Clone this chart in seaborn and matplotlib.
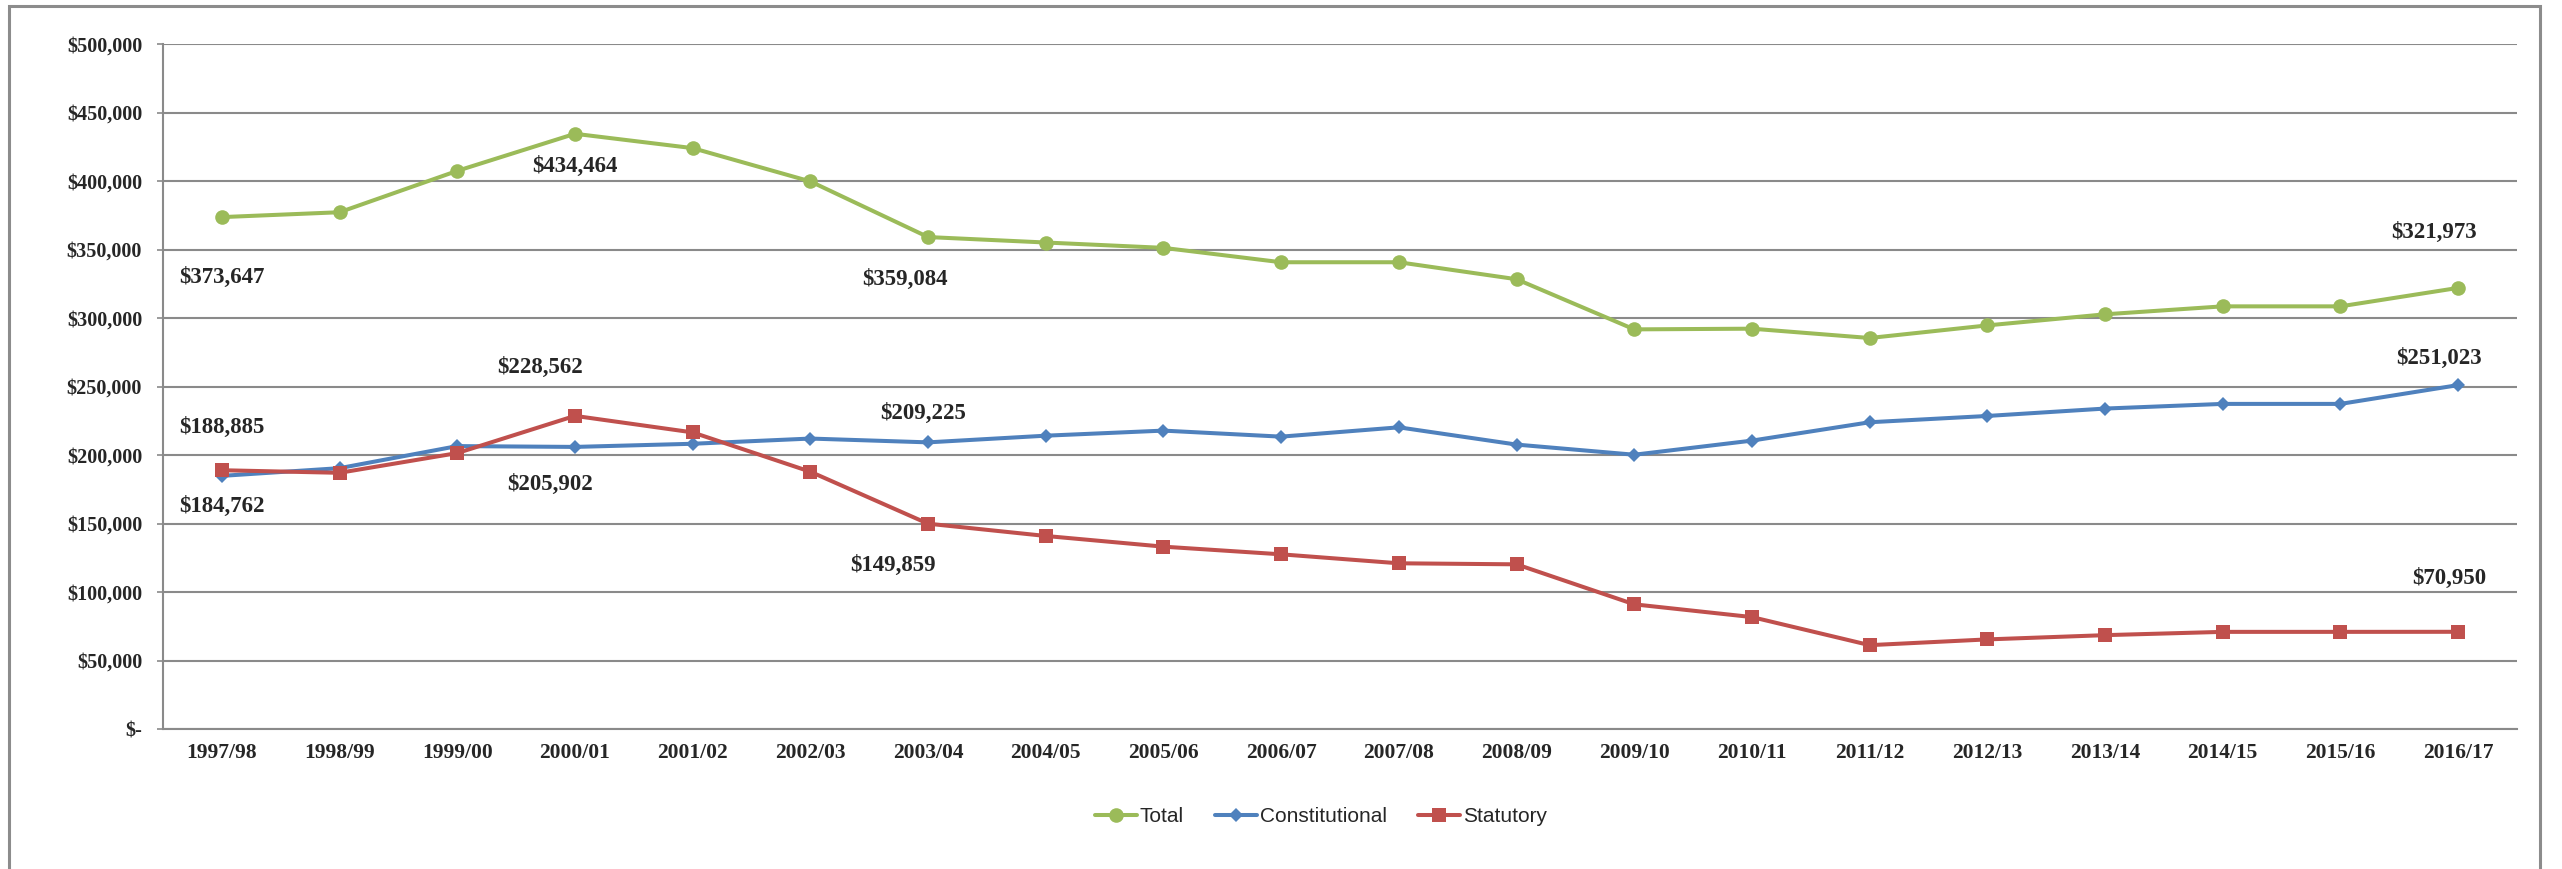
import pandas as pd
import matplotlib
matplotlib.use("Agg")
import matplotlib.pyplot as plt
from matplotlib.ticker import FuncFormatter, MultipleLocator, FixedLocator
from matplotlib.patches import Rectangle
import seaborn as sns

# data
years = ['1997/98', '1998/99', '1999/00', '2000/01', '2001/02', '2002/03', '2003/04',
         '2004/05', '2005/06', '2006/07', '2007/08', '2008/09', '2009/10', '2010/11',
         '2011/12', '2012/13', '2013/14', '2014/15', '2015/16', '2016/17']
total = [373647, 377200, 407400, 434464, 424000, 399700, 359084, 355100, 351200, 340700,
         340700, 328300, 291700, 292200, 285400, 294600, 302700, 308500, 308500, 321973]
constitutional = [184762, 190400, 206500, 205902, 208200, 212000, 209225, 214100, 217800, 213400,
                  220200, 207600, 200200, 210500, 223900, 228500, 233900, 237300, 237300, 251023]
statutory = [188885, 187000, 201400, 228562, 216500, 187800, 149859, 140900, 133100, 127500,
             120950, 120200, 91000, 81700, 61200, 65400, 68500, 70900, 70900, 70950]
series_names = ['Total', 'Constitutional', 'Statutory']

df = pd.DataFrame({'Year': years, 'Total': total,
                   'Constitutional': constitutional, 'Statutory': statutory})

sns.set_style("white")
plt.rcParams['font.family'] = ['Liberation Serif', 'DejaVu Serif']

W, H = 2562, 869
fig = plt.figure(figsize=(W / 100, H / 100), dpi=100)
ax = fig.add_axes([163 / W, 1 - 729 / H, (2517 - 163) / W, (729 - 44) / H])

styles = {
    'Total': dict(color='#9BBB59', marker='o', markersize=10.5),
    'Constitutional': dict(color='#4F81BD', marker='D', markersize=7.5),
    'Statutory': dict(color='#C0504D', marker='s', markersize=10.5),
}
for name in series_names:
    sns.lineplot(data=df, x='Year', y=name, ax=ax, label=name, sort=False,
                 linewidth=2.9, markeredgewidth=0, **styles[name])

# value labels (which point, offset in pixels)
label_spots = [
    ('Total', 0, 0, -60), ('Total', 3, 0, -33), ('Total', 6, -23, -42), ('Total', 19, -24, 55),
    ('Constitutional', 0, 0, -31), ('Constitutional', 3, -25, -38),
    ('Constitutional', 6, -5, 29), ('Constitutional', 19, -19, 27),
    ('Statutory', 0, 0, 43), ('Statutory', 3, -35, 48), ('Statutory', 6, -35, -42),
    ('Statutory', 19, -9, 53),
]
for name, i, dx, dy in label_spots:
    v = df[name].iloc[i]
    ax.annotate(f"${v:,.0f}", xy=(i, v), xytext=(dx, dy), textcoords='offset pixels',
                ha='center', va='center', fontsize=16.5, fontweight='bold')

ax.set_xlim(-0.5, len(years) - 0.5)
ax.set_ylim(0, 500000)
ax.yaxis.set_major_locator(MultipleLocator(50000))
ax.yaxis.set_major_formatter(FuncFormatter(lambda v, p: "$-" if v == 0 else f"${v:,.0f}"))
ax.xaxis.set_minor_locator(FixedLocator([i - 0.5 for i in range(len(years) + 1)]))
ax.grid(axis='y', color='#8a8a8a', linewidth=1.5)
ax.grid(axis='x', visible=False)
ax.set_xlabel('')
ax.set_ylabel('')

for s in ['top', 'right']:
    ax.spines[s].set_visible(False)
for s in ['left', 'bottom']:
    ax.spines[s].set_color('#8a8a8a')
    ax.spines[s].set_linewidth(1.5)

ax.tick_params(axis='x', which='major', length=0, pad=10, labelsize=15.5)
ax.tick_params(axis='x', which='minor', length=4, width=1.2, color='#8a8a8a', direction='out')
ax.tick_params(axis='y', which='major', length=4, width=1.2, color='#8a8a8a', direction='out',
               pad=11, labelsize=14.5, left=True)
for lab in ax.get_xticklabels() + ax.get_yticklabels():
    lab.set_fontweight('bold')

handles, labels = ax.get_legend_handles_labels()
ax.get_legend().remove()
fig.legend(handles, labels, loc='center', bbox_to_anchor=(1321 / W, 1 - 817 / H), ncol=3,
           frameon=False, handlelength=2.0, handletextpad=0.15, columnspacing=1.5,
           prop={'family': 'Liberation Sans', 'size': 15})

# outer chart frame (open at the bottom)
fig.add_artist(Rectangle((9 / W, -0.05), (2540 - 9) / W, 1 - 6 / H + 0.05,
                         transform=fig.transFigure, fill=False, ec='#8c8c8c', lw=2.2))

fig.savefig('out.png', dpi=100)
